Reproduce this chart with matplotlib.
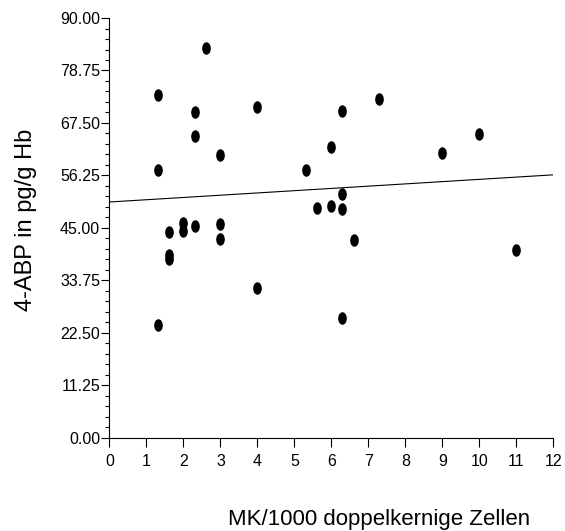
import numpy as np
import matplotlib
matplotlib.use("Agg")
import matplotlib.pyplot as plt
from matplotlib.path import Path
from matplotlib.transforms import Affine2D
from matplotlib.ticker import MultipleLocator, FormatStrFormatter

plt.rcParams['font.family'] = ['Liberation Sans', 'DejaVu Sans']

# MK per 1000 binucleated cells vs 4-ABP adducts
mk_per_1000 = [1.3, 1.3, 1.3, 1.6, 1.6, 1.6, 2.0, 2.0, 2.3, 2.3,
               2.3, 2.6, 3.0, 3.0, 3.0, 4.0, 4.0, 5.3, 5.6, 6.0,
               6.0, 6.3, 6.3, 6.3, 6.3, 6.6, 7.3, 9.0, 10.0, 11.0]
abp_pg_g = [73.4, 57.4, 24.1, 44.0, 39.2, 38.2, 46.1, 44.4, 69.9, 64.8,
            45.4, 83.6, 60.6, 45.8, 42.7, 71.0, 32.1, 57.4, 49.3, 62.3,
            49.7, 70.1, 52.3, 49.0, 25.6, 42.3, 72.6, 61.1, 65.1, 40.3]

x_ticks = list(range(0, 13))
y_ticks = [0.00, 11.25, 22.50, 33.75, 45.00, 56.25, 67.50, 78.75, 90.00]

fig = plt.figure(figsize=(5.65, 5.31), dpi=100)
ax = fig.add_axes([0.1938, 0.176, 0.7855, 0.790])

# tall ellipse marker like the original
oval = Path.unit_circle().transformed(Affine2D().scale(0.65, 1.0))
ax.plot(mk_per_1000, abp_pg_g, linestyle='none', marker=oval,
        markersize=8, color='black')

# linear regression line across the axis range
slope, intercept = np.polyfit(mk_per_1000, abp_pg_g, 1)
fit_x = np.array([0, 12])
ax.plot(fit_x, intercept + slope * fit_x, color='black', linewidth=0.8)

ax.set_xlim(0, 12)
ax.set_ylim(0, 90)
ax.set_xticks(x_ticks)
ax.set_yticks(y_ticks)
ax.yaxis.set_major_formatter(FormatStrFormatter('%.2f'))
ax.yaxis.set_minor_locator(MultipleLocator(2.25))

for side in ['top', 'right']:
    ax.spines[side].set_visible(False)
for side in ['left', 'bottom']:
    ax.spines[side].set_linewidth(0.8)

ax.tick_params(axis='x', which='major', length=6.5, width=0.8, pad=5, labelsize=11.5)
ax.tick_params(axis='y', which='major', length=5.8, width=0.8, pad=1, labelsize=11.5)
ax.tick_params(axis='y', which='minor', length=2.9, width=0.8)

fig.text(379 / 565, 1 - 519 / 531, 'MK/1000 doppelkernige Zellen',
         ha='center', va='center', fontsize=16)
fig.text(26 / 565, 1 - 220 / 531, '4-ABP in pg/g Hb', rotation=90,
         ha='center', va='center', fontsize=17)

fig.savefig('out.png', dpi=100)
